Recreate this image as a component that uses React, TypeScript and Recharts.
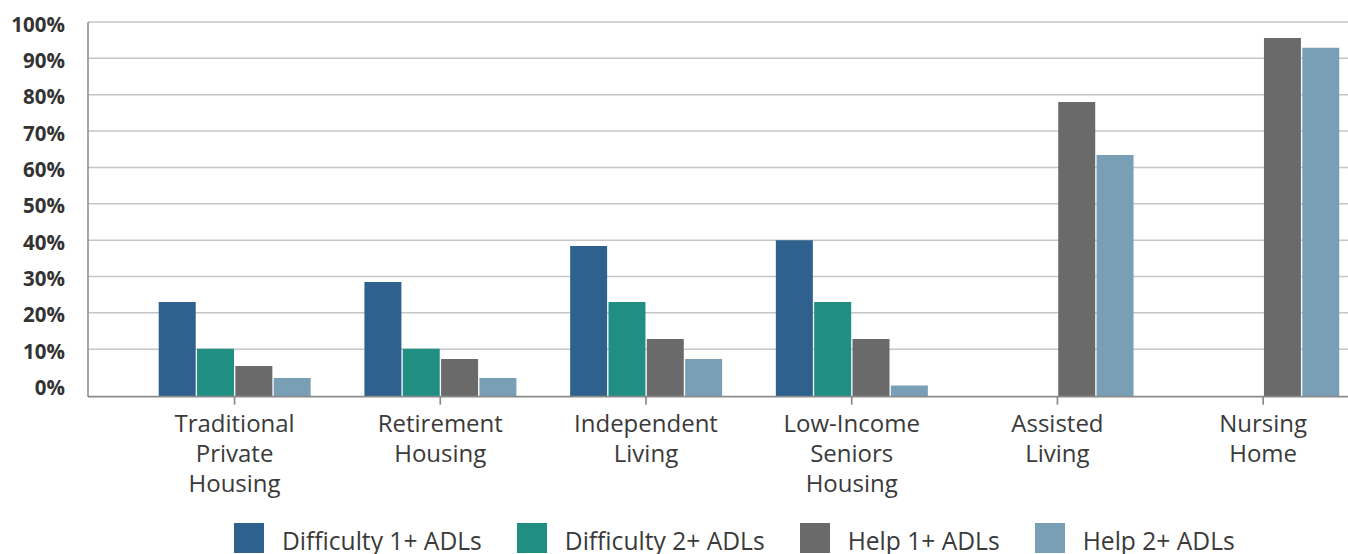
import { BarChart, Bar, XAxis, YAxis, CartesianGrid, Legend } from 'recharts';

// housing types (line breaks = how the axis labels wrap)
const categories = [
  'Traditional\nPrivate\nHousing',
  'Retirement\nHousing',
  'Independent\nLiving',
  'Low-Income\nSeniors\nHousing',
  'Assisted\nLiving',
  'Nursing\nHome',
];

// % of residents
const difficulty1 = [23, 28.5, 38.4, 40, null, null];
const difficulty2 = [10.1, 10.1, 23, 23, null, null];
const help1 = [5.4, 7.3, 12.8, 12.8, 78, 95.6];
const help2 = [2.1, 2.1, 7.3, 0, 63.4, 92.9];

const yTicks = [0, 10, 20, 30, 40, 50, 60, 70, 80, 90, 100];
const gridValues = [10, 20, 30, 40, 50, 60, 70, 80, 90, 100];
// the original's value axis starts a little below 0 and bars rise from there
const AXIS_FLOOR = -3.06;

const data = categories.map((name, i) => ({
  name,
  d1: difficulty1[i],
  d2: difficulty2[i],
  h1: help1[i],
  h2: help2[i],
}));

const series = [
  { key: 'd1', name: 'Difficulty 1+ ADLs', color: '#2e618e' },
  { key: 'd2', name: 'Difficulty 2+ ADLs', color: '#218e84' },
  { key: 'h1', name: 'Help 1+ ADLs', color: '#6a6a6a' },
  { key: 'h2', name: 'Help 2+ ADLs', color: '#799fb7' },
];

const AXIS_GREY = '#8a8a8a';
const TEXT = '#3a3a3a';

const CategoryTick = (props: any) => {
  const { x, y, payload } = props;
  const lines = String(payload.value).split('\n');
  return (
    <text x={x} y={y + 25.6} textAnchor="middle" fill={TEXT} fontSize={24} fontFamily="Open Sans">
      {lines.map((l, i) => (
        <tspan key={i} x={x} dy={i === 0 ? 0 : 30}>
          {l}
        </tspan>
      ))}
    </text>
  );
};

const PercentTick = (props: any) => {
  const { x, y, payload } = props;
  return (
    <text
      x={x}
      y={y + 1.5}
      textAnchor="end"
      dominantBaseline="central"
      fill="#333"
      fontSize={20.5}
      fontWeight={700}
      fontFamily="Open Sans"
    >
      {payload.value}%
    </text>
  );
};

const LegendContent = (props: any) => {
  const { payload = [] } = props;
  return (
    <div style={{ display: 'flex', alignItems: 'flex-start', fontFamily: 'Open Sans' }}>
      {payload.map((p: any) => (
        <div key={p.value} style={{ display: 'flex', alignItems: 'flex-start', marginRight: 35 }}>
          <div style={{ width: 30, height: 30, background: p.color }} />
          <span style={{ marginLeft: 18, marginTop: 3.4, fontSize: 24.6, lineHeight: '30px', color: TEXT, whiteSpace: 'nowrap' }}>
            {p.value}
          </span>
        </div>
      ))}
    </div>
  );
};

const App = () => {
  return (
    <div style={{ position: 'absolute', left: 0, top: 0, width: 1348, height: 554, overflow: 'hidden', background: '#fff' }}>
      <BarChart
        width={1366}
        height={554}
        data={data}
        margin={{ top: 22, right: 0, bottom: 0, left: 0 }}
        barSize={37}
        barGap={1.33}
      >
        <CartesianGrid vertical={false} horizontalValues={gridValues} stroke="#c6c6c6" strokeWidth={1.5} />
        <XAxis
          dataKey="name"
          interval={0}
          height={157.3}
          padding={{ left: 43.7, right: 0 }}
          tickSize={8}
          tickMargin={2}
          axisLine={{ stroke: AXIS_GREY, strokeWidth: 1.7 }}
          tickLine={{ stroke: AXIS_GREY, strokeWidth: 1.7 }}
          tick={<CategoryTick />}
        />
        <YAxis
          type="number"
          width={88}
          domain={[AXIS_FLOOR, 100]}
          allowDataOverflow
          ticks={yTicks}
          interval={0}
          tickSize={0}
          tickMargin={23}
          tickLine={false}
          axisLine={{ stroke: AXIS_GREY, strokeWidth: 1.5 }}
          tick={<PercentTick />}
        />
        <Legend
          layout="horizontal"
          verticalAlign="middle"
          align="center"
          content={<LegendContent />}
          wrapperStyle={{ top: 523, left: 234, width: 1100, height: 31 }}
        />
        {series.map((s) => (
          <Bar
            key={s.key}
            name={s.name}
            fill={s.color}
            dataKey={(d: any) => (d[s.key] == null ? null : [AXIS_FLOOR, d[s.key]])}
            isAnimationActive={false}
          />
        ))}
      </BarChart>
    </div>
  );
};

export default App;
